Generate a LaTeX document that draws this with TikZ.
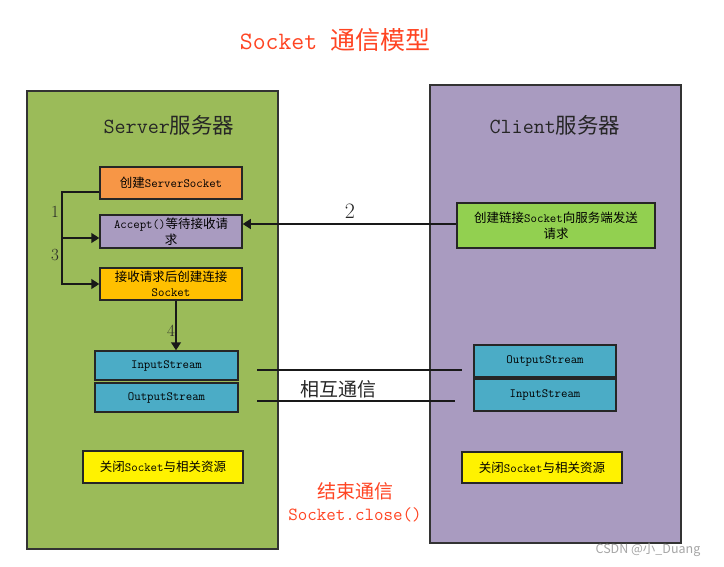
\documentclass[tikz,border=0pt]{standalone}
\usepackage{fontspec}
\newfontfamily\cjk{Noto Sans CJK SC}
\usetikzlibrary{arrows.meta}
\definecolor{srvbg}{HTML}{9BBB59}
\definecolor{clibg}{HTML}{A99BC0}
\definecolor{orangebox}{HTML}{F79646}
\definecolor{goldbox}{HTML}{FFC000}
\definecolor{tealbox}{HTML}{4BACC6}
\definecolor{greenbox}{HTML}{92D050}
\definecolor{redtxt}{HTML}{FF4422}
\newcommand\zh[1]{{\cjk #1}}
\tikzset{
  panel/.style={draw=black!80, line width=1.5pt, inner sep=0pt},
  boxnode/.style={draw=black!85, line width=1.5pt, inner sep=0pt, align=center,
    font=\ttfamily\fontsize{12.5}{15.5}\selectfont},
  conn/.style={draw=black!90, line width=1.5pt},
  arr/.style={conn, -{Triangle[length=8pt,width=10pt]}},
  numlbl/.style={font=\rmfamily\fontsize{17}{19}\selectfont, inner sep=0pt, text=black!85},
}
\begin{document}
\begin{tikzpicture}[x=1pt,y=-1pt]
\useasboundingbox (0,0) rectangle (724,567);
\fill[white] (0,0) rectangle (724,567);
% panels
\node[panel, fill=srvbg, minimum width=251pt, minimum height=458pt] (srv) at (152.5,320) {};
\node[panel, fill=clibg, minimum width=251pt, minimum height=458pt] (cli) at (555.5,314) {};
% title
\node[text=redtxt, font=\ttfamily\fontsize{25}{28}\selectfont] (title) at (335,40) {Socket \zh{通信模型}};
\node[font=\ttfamily\fontsize{21.5}{24}\selectfont, text=black!85] (srvlbl) at (169,125) {Server\zh{服务器}};
\node[font=\ttfamily\fontsize{21.5}{24}\selectfont, text=black!85] (clilbl) at (555,125) {Client\zh{服务器}};
% server boxes
\node[boxnode, fill=orangebox, minimum width=142pt, minimum height=32pt] (ss) at (171,183) {\zh{创建}ServerSocket};
\node[boxnode, fill=clibg, minimum width=142pt, minimum height=33pt] (acc) at (171,231.5) {Accept()\zh{等待接收请}\\\zh{求}};
\node[boxnode, fill=goldbox, minimum width=142pt, minimum height=32pt] (rcv) at (171,284) {\zh{接收请求后创建连接}\\Socket};
\node[boxnode, fill=tealbox, minimum width=143pt, minimum height=29pt] (in1) at (166.5,365.5) {InputStream};
\node[boxnode, fill=tealbox, minimum width=143pt, minimum height=29pt] (out1) at (166.5,397.5) {OutputStream};
\node[boxnode, fill=yellow, minimum width=160pt, minimum height=32pt] (cl1) at (163,467) {\zh{关闭}Socket\zh{与相关资源}};
% client boxes
\node[boxnode, fill=greenbox, minimum width=198pt, minimum height=45pt] (c1) at (556,225.5) {\zh{创建链接}Socket\zh{向服务端发送}\\\zh{请求}};
\node[boxnode, fill=tealbox, minimum width=142pt, minimum height=32pt] (out2) at (545,361) {OutputStream};
\node[boxnode, fill=tealbox, minimum width=142pt, minimum height=32pt] (in2) at (545,395) {InputStream};
\node[boxnode, fill=yellow, minimum width=160pt, minimum height=31pt] (cl2) at (542,467.5) {\zh{关闭}Socket\zh{与相关资源}};
% bracket 1 / 3
\coordinate (br) at (62,192);
\draw[arr] (ss.west |- br) -- (br) |- ([yshift=-6.5pt]acc.west);
\draw[arr] (br) |- (rcv.west);
\node[numlbl] (n1) at (55,212) {1};
\node[numlbl] (n3) at (55,255) {3};
% arrow 2
\draw[arr] ([yshift=1.5pt]c1.west) -- ([yshift=1.5pt]c1.west -| acc.east);
\node[numlbl, font=\rmfamily\fontsize{22}{24}\selectfont] (n2) at (350,211) {2};
% arrow 4
\draw[arr] ([xshift=5pt]rcv.south) -- ([xshift=5pt]rcv.south |- in1.north);
\node[numlbl] (n4) at (171,331) {4};
% communication lines
\coordinate (l1a) at (257,370);
\coordinate (l1b) at (462,370);
\coordinate (l2a) at (257,401);
\coordinate (l2b) at (455,401);
\draw[conn, line width=1.3pt] (l1a) -- (l1b);
\draw[conn, line width=1.3pt] (l2a) -- (l2b);
\node[font=\cjk\fontsize{19}{21}\selectfont, text=black!85] (mutual) at (338,389) {相互通信};
% end communication
\node[text=redtxt, font=\cjk\fontsize{19}{21}\selectfont] (endc) at (355,491) {结束通信};
\node[text=redtxt, font=\ttfamily\fontsize{18.5}{21}\selectfont] (close) at (355,515) {Socket.close()};
% watermark
\node[text=black!35, font=\cjk\fontsize{12.5}{14}\selectfont] (wm) at (648,550) {CSDN @小\_Duang};
\end{tikzpicture}
\end{document}
